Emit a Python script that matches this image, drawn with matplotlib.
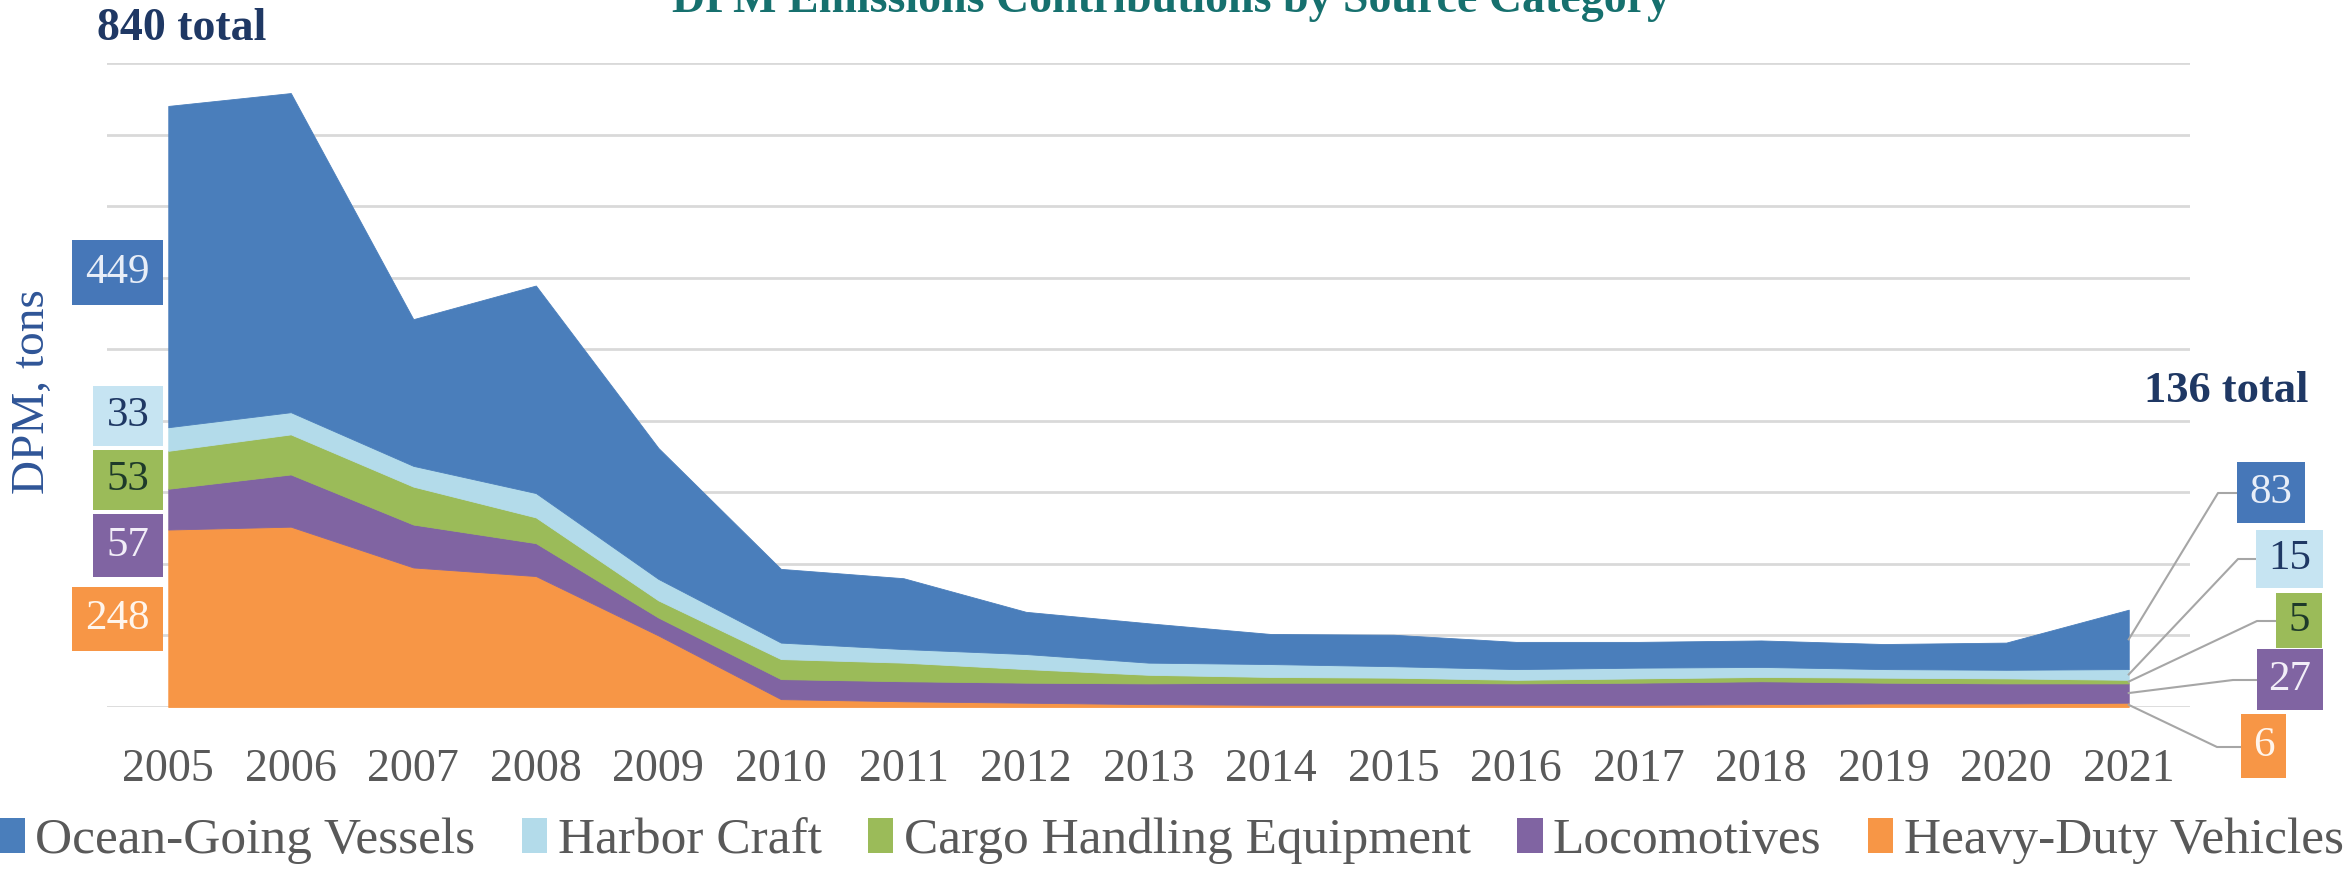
import numpy as np
import matplotlib
matplotlib.use("Agg")
import matplotlib.pyplot as plt
from matplotlib.patches import Rectangle, Patch
from matplotlib.lines import Line2D

plt.rcParams['font.family'] = ['Liberation Serif', 'DejaVu Serif']

# data (tons of DPM)
years = list(range(2005, 2022))
ogv = [449, 446, 205, 290, 183, 103, 99, 59, 55, 42, 44, 38, 36, 37, 35, 38, 83]
hc = [33, 31, 29, 34, 30, 23, 19, 21, 17, 18, 16, 15, 15, 14, 12, 12, 15]
che = [53, 56, 53, 36, 24, 28, 26, 19, 12, 8, 7, 5, 6, 6, 7, 7, 5]
loco = [57, 73, 60, 46, 25, 28, 28, 28, 29, 31, 31, 30, 31, 32, 29, 28, 27]
hdv = [248, 252, 195, 183, 100, 11, 8, 6, 4, 3, 3, 3, 3, 4, 5, 5, 6]
names = ["Ocean-Going Vessels", "Harbor Craft", "Cargo Handling Equipment",
         "Locomotives", "Heavy-Duty Vehicles"]

c_ogv, c_hc, c_che, c_loco, c_hdv = "#4a7ebb", "#b3dbea", "#9bbb59", "#8064a2", "#f79646"

W, H = 2343, 869
fig = plt.figure(figsize=(W / 100, H / 100), dpi=100)


def fx(x):
    return x / W


def fy(y):
    return 1 - y / H


ax = fig.add_axes([fx(107), fy(707), fx(2190) - fx(107), fy(63) - fy(707)])
ax.stackplot(years, hdv, loco, che, hc, ogv,
             colors=[c_hdv, c_loco, c_che, c_hc, c_ogv], lw=0.6,
             edgecolor='face', zorder=3)
ax.set_xlim(2004.5, 2021.5)
ax.set_ylim(0, 900)
ax.set_yticks(range(0, 901, 100))
ax.set_yticklabels([])
ax.set_xticks(years)
ax.set_xticklabels([str(y) for y in years], fontsize=33, color="#595959")
ax.tick_params(length=0, pad=30)
ax.yaxis.grid(True, color="#d9d9d9", lw=2)
ax.set_axisbelow(True)
for s in ax.spines.values():
    s.set_visible(False)

# titles and labels (title is cut off at the top, as in the source)
fig.text(0.5, fy(12), "DPM Emissions Contributions by Source Category",
         ha='center', va='baseline', fontsize=33, fontweight='bold', color="#16706e")
totals = np.array(ogv) + np.array(hc) + np.array(che) + np.array(loco) + np.array(hdv)
fig.text(fx(97), fy(40), f"{totals[0]} total", ha='left', va='baseline',
         fontsize=33, fontweight='bold', color="#1f3864")
fig.text(fx(2308), fy(402), f"{totals[-1]} total", ha='right', va='baseline',
         fontsize=32, fontweight='bold', color="#1f3864")
fig.text(fx(33), fy(392), "DPM, tons", rotation=90, ha='center', va='center',
         fontsize=34, color="#2f5597")


def box(x0, y0, x1, y1, label, face, tcolor):
    fig.add_artist(Rectangle((fx(x0), fy(y1)), fx(x1) - fx(x0), fy(y0) - fy(y1),
                             transform=fig.transFigure, facecolor=face,
                             edgecolor='none', zorder=5))
    fig.text(fx((x0 + x1) / 2), fy((y0 + y1) / 2), label, ha='center', va='center',
             fontsize=31, color=tcolor, zorder=6)


# left labels (2005)
box(72, 240, 163, 305, str(ogv[0]), "#4677b8", "#e8eef8")
box(93, 386, 163, 446, str(hc[0]), "#c6e4f2", "#1f3864")
box(93, 450, 163, 510, str(che[0]), "#9bbb59", "#1e3a2a")
box(93, 514, 163, 577, str(loco[0]), "#8064a2", "#f2eef8")
box(72, 587, 163, 651, str(hdv[0]), "#f79646", "#fff5ec")

# right labels (2021) with leader lines
right = [
    (ogv, (2237, 462, 2305, 523), (2218, 493), "#4677b8", "#e8eef8"),
    (hc, (2256, 530, 2323, 588), (2238, 559), "#c6e4f2", "#1f3864"),
    (che, (2276, 593, 2322, 648), (2257, 621), "#9bbb59", "#1e3a2a"),
    (loco, (2257, 649, 2323, 710), (2233, 680), "#8064a2", "#f2eef8"),
    (hdv, (2241, 714, 2286, 778), (2217, 747), "#f79646", "#fff5ec"),
]
layers = [hdv, loco, che, hc, ogv]
cum = np.cumsum([l[-1] for l in layers])
fig.canvas.draw()
inv = fig.transFigure.inverted()
for series, rect, elbow, face, tcol in right:
    i = [id(l) for l in layers].index(id(series))
    lo = cum[i - 1] if i > 0 else 0
    mid = lo + series[-1] / 2
    sx, sy = inv.transform(ax.transData.transform((years[-1], mid)))
    fig.add_artist(Line2D([sx, fx(elbow[0]), fx(rect[0])],
                          [sy, fy(elbow[1]), fy(elbow[1])],
                          transform=fig.transFigure, color="#a6a6a6", lw=1.5, zorder=4))
    box(*rect, str(series[-1]), face, tcol)

# legend
handles = [Patch(facecolor=c, edgecolor='none') for c in [c_ogv, c_hc, c_che, c_loco, c_hdv]]
fig.legend(handles, names, loc='center', bbox_to_anchor=(0.5, fy(841)), ncol=5,
           frameon=False, fontsize=37, handlelength=0.5, handleheight=0.7,
           handletextpad=0.2, columnspacing=0.9, labelcolor="#595959")

fig.savefig("out.png", dpi=100)
